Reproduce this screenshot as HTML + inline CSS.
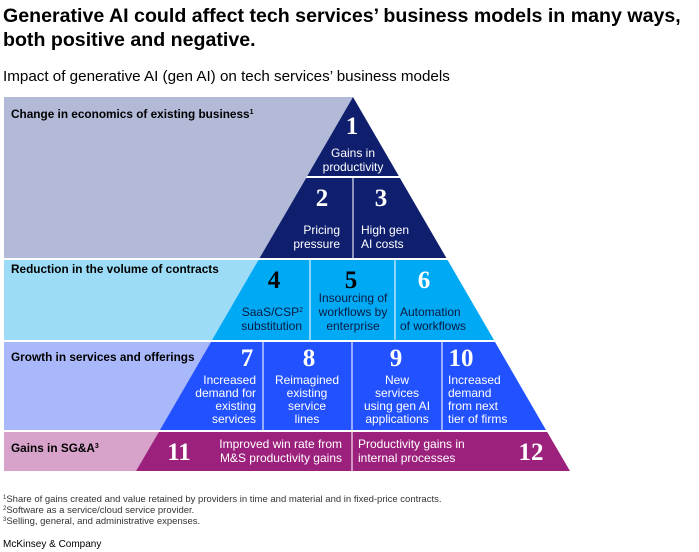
<!DOCTYPE html>
<html><head><meta charset="utf-8"><style>
body{margin:0;background:#fff;width:699px;height:552px;overflow:hidden;font-family:"Liberation Sans",sans-serif;}
svg{display:block}
</style></head><body>
<svg width="699" height="552" viewBox="0 0 699 552" xmlns="http://www.w3.org/2000/svg" font-family="Liberation Sans, sans-serif">
<text x="3" y="22" font-size="19.6" font-weight="bold" fill="#000">Generative AI could affect tech services’ business models in many ways,</text>
<text x="3" y="46" font-size="19.6" font-weight="bold" fill="#000">both positive and negative.</text>
<text x="3" y="81" font-size="15.2" fill="#000">Impact of generative AI (gen AI) on tech services’ business models</text>

<polygon points="4,97 353,97 259.6,258 4,258" fill="#b3bad8"/>
<polygon points="4,260 258.4,260 212,340 4,340" fill="#9ddcf7"/>
<polygon points="4,342 211,342 159.9,430 4,430" fill="#a9b8fb"/>
<polygon points="4,432 158.8,432 136,471 4,471" fill="#d8a3cb"/>

<polygon points="353,97 398.8,176 307.2,176" fill="#0f1f6e"/>
<polygon points="306.1,178 399.9,178 446.4,258 259.6,258" fill="#0f1f6e"/>
<polygon points="258.4,260 447.6,260 494,340 212,340" fill="#00a9f4"/>
<polygon points="211,342 495,342 546,430 159.9,430" fill="#2251ff"/>
<polygon points="158.8,432 547.2,432 570,471 136,471" fill="#9c217d"/>
<g stroke="#fff" stroke-width="1.5" opacity="0.7">
<line x1="353" y1="178" x2="353" y2="258"/>
<line x1="310" y1="260" x2="310" y2="340"/>
<line x1="395" y1="260" x2="395" y2="340"/>
<line x1="263" y1="342" x2="263" y2="430"/>
<line x1="352" y1="342" x2="352" y2="430"/>
<line x1="442" y1="342" x2="442" y2="430"/>
<line x1="352" y1="432" x2="352" y2="471"/>
</g>

<g font-size="11.8" font-weight="bold" fill="#000">
<text x="11" y="118">Change in economics of existing business<tspan font-size="7" dy="-4">1</tspan></text>
<text x="11" y="273">Reduction in the volume of contracts</text>
<text x="11" y="361">Growth in services and offerings</text>
<text x="11" y="452">Gains in SG&amp;A<tspan font-size="7" dy="-4">3</tspan></text>
</g>

<g fill="#fff" font-family="Liberation Serif, serif" font-weight="bold" font-size="25">
<text x="352" y="134" text-anchor="middle">1</text>
<text x="322" y="206" text-anchor="middle">2</text>
<text x="381" y="206" text-anchor="middle">3</text>
<text x="424" y="288" text-anchor="middle">6</text>
<text x="247" y="366" text-anchor="middle">7</text>
<text x="309" y="366" text-anchor="middle">8</text>
<text x="396" y="366" text-anchor="middle">9</text>
<text x="461" y="366" text-anchor="middle">10</text>
<text x="179" y="460" text-anchor="middle">11</text>
<text x="531" y="460" text-anchor="middle">12</text>
</g>
<g fill="#000" font-family="Liberation Serif, serif" font-weight="bold" font-size="25">
<text x="274" y="288" text-anchor="middle">4</text>
<text x="351" y="288" text-anchor="middle">5</text>
</g>

<g fill="#fff" font-size="12">
<text x="353" y="157" text-anchor="middle">Gains in</text>
<text x="353" y="171" text-anchor="middle">productivity</text>
<text x="340" y="234" text-anchor="end">Pricing</text>
<text x="340" y="248" text-anchor="end">pressure</text>
<text x="361" y="234">High gen</text>
<text x="361" y="248">AI costs</text>
<text x="256" y="384" text-anchor="end">Increased</text>
<text x="256" y="397" text-anchor="end">demand for</text>
<text x="256" y="410" text-anchor="end">existing</text>
<text x="256" y="423" text-anchor="end">services</text>
<text x="307" y="384" text-anchor="middle">Reimagined</text>
<text x="307" y="397" text-anchor="middle">existing</text>
<text x="307" y="410" text-anchor="middle">service</text>
<text x="307" y="423" text-anchor="middle">lines</text>
<text x="397" y="384" text-anchor="middle">New</text>
<text x="397" y="397" text-anchor="middle">services</text>
<text x="397" y="410" text-anchor="middle">using gen AI</text>
<text x="397" y="423" text-anchor="middle">applications</text>
<text x="448" y="384">Increased</text>
<text x="448" y="397">demand</text>
<text x="448" y="410">from next</text>
<text x="448" y="423">tier of firms</text>
<text x="342" y="448" text-anchor="end">Improved win rate from</text>
<text x="342" y="462" text-anchor="end">M&amp;S productivity gains</text>
<text x="358" y="448">Productivity gains in</text>
<text x="358" y="462">internal processes</text>
</g>
<g fill="#0a1a40" font-size="12">
<text x="353" y="302" text-anchor="middle">Insourcing of</text>
<text x="353" y="316" text-anchor="middle">workflows by</text>
<text x="353" y="330" text-anchor="middle">enterprise</text>
<text x="303" y="316" text-anchor="end">SaaS/CSP<tspan font-size="7" dy="-4">2</tspan></text>
<text x="302" y="330" text-anchor="end">substitution</text>
<text x="400" y="316">Automation</text>
<text x="400" y="330">of workflows</text>
</g>

<g font-size="9.5" fill="#333">
<text x="3" y="502"><tspan font-size="6" dy="-3">1</tspan><tspan dy="3">Share of gains created and value retained by providers in time and material and in fixed-price contracts.</tspan></text>
<text x="3" y="513"><tspan font-size="6" dy="-3">2</tspan><tspan dy="3">Software as a service/cloud service provider.</tspan></text>
<text x="3" y="524"><tspan font-size="6" dy="-3">3</tspan><tspan dy="3">Selling, general, and administrative expenses.</tspan></text>
</g>
<text x="3" y="547" font-size="10" fill="#000">McKinsey &amp; Company</text>
</svg>
</body></html>
